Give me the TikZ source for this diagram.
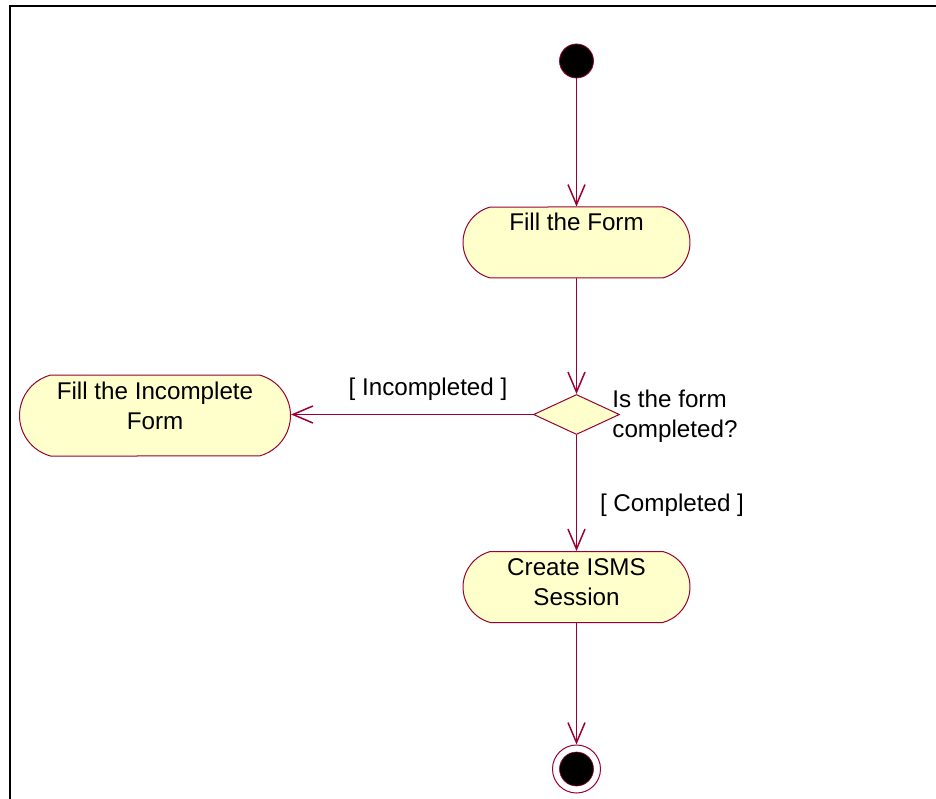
\documentclass[tikz,border=0pt]{standalone}
\usepackage{fontspec}
\setmainfont{Liberation Sans}
\usetikzlibrary{arrows.meta,shapes.misc,shapes.geometric}
\definecolor{roseline}{RGB}{153,0,51}
\definecolor{rosefill}{RGB}{255,255,204}
% invisible strut that puts the first baseline 24pt below the top of an activity
\newcommand\firstline{\rule{0pt}{24pt}}
\begin{document}
\begin{tikzpicture}[x=1pt,y=-1pt,
  font=\fontsize{24.2}{30}\selectfont,
  activity/.style={rounded rectangle, rounded rectangle arc length=150,
    draw=roseline, fill=rosefill, line width=1pt, inner sep=0pt},
  decision/.style={diamond, draw=roseline, fill=rosefill, line width=1pt,
    inner sep=0pt, minimum width=86pt, minimum height=40pt},
  flow/.style={draw=roseline, line width=1.5pt,
    -{Straight Barb[length=20pt,width=17pt,line width=1.5pt]}},
  guard/.style={anchor=base, inner sep=0pt},
]
\useasboundingbox (0,0) rectangle (936,799);
% diagram frame
\draw[line width=2pt] (10,799) -- (10,6) -- (936,6);

% initial state
\node[circle, fill=black, draw=roseline, line width=0.8pt,
  minimum size=34pt, inner sep=0pt] (start) at (576.5,61) {};

% activities
\node[activity, minimum width=227pt] (fillform) at (576.5,242.5)
  {\parbox[c][71pt][t]{170pt}{\centering\firstline Fill the Form}};
\node[activity, minimum width=271pt] (incomplete) at (155,415.5)
  {\parbox[c][81pt][t]{205pt}{\centering\firstline Fill the Incomplete\\Form}};
\node[activity, minimum width=227pt] (session) at (576.5,587)
  {\parbox[c][71pt][t]{170pt}{\centering\firstline Create ISMS\\Session}};

% decision
\node[decision] (check) at (576.5,414.5) {};
\node[anchor=base west, inner sep=0pt, align=left] (question) at (612.2,437)
  {Is the form\\completed?};

% final state
\node[circle, draw=roseline, fill=white, line width=1pt,
  minimum size=48pt, inner sep=0pt,
  path picture={\filldraw[fill=black, draw=roseline, line width=0.6pt]
    (path picture bounding box.center) circle (17pt);}] (final) at (576.5,769) {};

% transitions
\draw[flow] (start) -- (start |- fillform.north);
\draw[flow] (fillform.south -| check) -- (check.north);
\draw[flow] (check.west) -- (check.west -| incomplete.east);
\draw[flow] (check.south) -- (check |- session.north);
\draw[flow] (session.south -| final) -- (final.north);

% guards
\node[guard] (guardinc) at (428,395.7) {[ Incompleted ]};
\node[guard] (guardok) at (672,511.7) {[ Completed ]};
\end{tikzpicture}
\end{document}
